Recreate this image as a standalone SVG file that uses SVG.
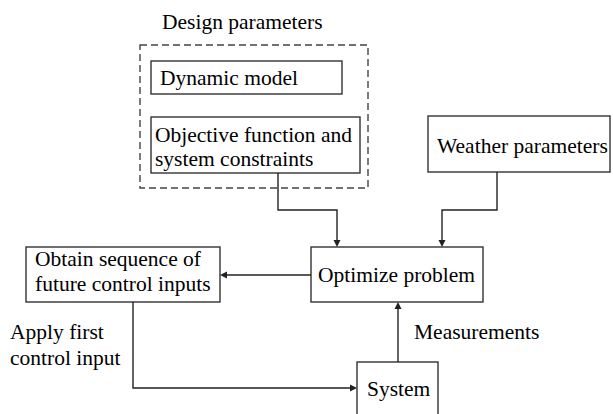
<svg xmlns="http://www.w3.org/2000/svg" width="613" height="414" viewBox="0 0 613 414">
<rect width="613" height="414" fill="#fff"/>
<g id="design-parameters">
<rect x="140" y="45" width="228" height="143" fill="none" stroke="#444" stroke-width="1.4" stroke-dasharray="7,4"/>
<text x="162" y="29" font-family="Times New Roman, Liberation Serif, serif" font-size="21.5">Design parameters</text>
</g>
<g id="dynamic-model">
<rect x="151" y="61" width="191" height="33" fill="#fff" stroke="#333" stroke-width="1.4"/>
<text x="160" y="85" font-family="Times New Roman, Liberation Serif, serif" font-size="21.5">Dynamic model</text>
</g>
<g id="objective">
<rect x="151" y="117" width="209" height="56" fill="#fff" stroke="#333" stroke-width="1.4"/>
<text x="155" y="142" font-family="Times New Roman, Liberation Serif, serif" font-size="21.5">Objective function and</text>
<text x="155" y="166" font-family="Times New Roman, Liberation Serif, serif" font-size="21.5">system constraints</text>
</g>
<g id="weather">
<rect x="428" y="116" width="182" height="56" fill="#fff" stroke="#333" stroke-width="1.4"/>
<text x="437" y="153" font-family="Times New Roman, Liberation Serif, serif" font-size="21.5">Weather parameters</text>
</g>
<g id="optimize">
<rect x="311" y="247" width="172" height="55" fill="#fff" stroke="#333" stroke-width="1.4"/>
<text x="318" y="282" font-family="Times New Roman, Liberation Serif, serif" font-size="21.5">Optimize problem</text>
</g>
<g id="obtain">
<rect x="26" y="247" width="194" height="55" fill="#fff" stroke="#333" stroke-width="1.4"/>
<text x="35" y="266" font-family="Times New Roman, Liberation Serif, serif" font-size="21.5">Obtain sequence of</text>
<text x="35" y="291" font-family="Times New Roman, Liberation Serif, serif" font-size="21.5">future control inputs</text>
</g>
<g id="system">
<rect x="357" y="362" width="81" height="60" fill="#fff" stroke="#333" stroke-width="1.4"/>
<text x="367" y="396" font-family="Times New Roman, Liberation Serif, serif" font-size="21.5">System</text>
</g>
<g id="connectors">
<path d="M278,173 V210 H337 V241" fill="none" stroke="#222" stroke-width="1.4"/>
<polygon points="333.5,240 340.5,240 337,247" fill="#222"/>
<path d="M497,172 V210 H442 V241" fill="none" stroke="#222" stroke-width="1.4"/>
<polygon points="438.5,240 445.5,240 442,247" fill="#222"/>
<path d="M311,275 H226" fill="none" stroke="#222" stroke-width="1.4"/>
<polygon points="227,271.5 227,278.5 220,275" fill="#222"/>
<path d="M133,302 V388 H351" fill="none" stroke="#222" stroke-width="1.4"/>
<polygon points="350,384.5 350,391.5 357,388" fill="#222"/>
<path d="M398,362 V308" fill="none" stroke="#222" stroke-width="1.4"/>
<polygon points="394.5,309 401.5,309 398,302" fill="#222"/>
<text x="414" y="339" font-family="Times New Roman, Liberation Serif, serif" font-size="21.5">Measurements</text>
<text x="10" y="339" font-family="Times New Roman, Liberation Serif, serif" font-size="21.5">Apply first</text>
<text x="10" y="365" font-family="Times New Roman, Liberation Serif, serif" font-size="21.5">control input</text>
</g>
</svg>
